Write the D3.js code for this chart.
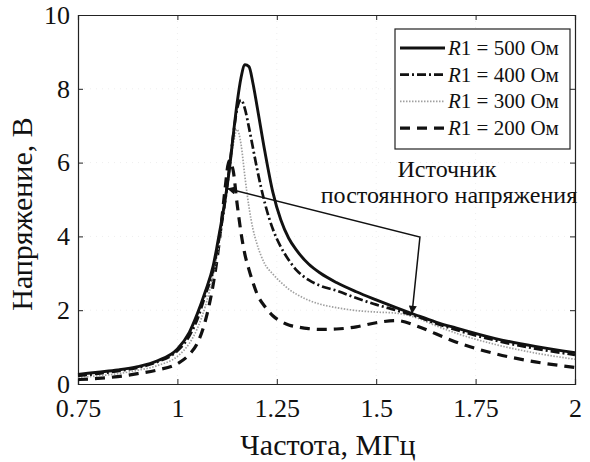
<!DOCTYPE html>
<html>
<head>
<meta charset="utf-8">
<script src="https://cdn.jsdelivr.net/npm/d3@7"></script>
<style>
  body { margin: 0; background: #fff; }
  text { font-family: "Liberation Serif", "Times New Roman", serif; fill: #111; }
</style>
</head>
<body>
<script>
//Data
    const freq = [0.75, 0.8, 0.85, 0.9, 0.95, 1.0, 1.03, 1.05, 1.07, 1.09, 1.1, 1.11, 1.12, 1.13, 1.14,
                  1.15, 1.16, 1.17, 1.18, 1.19, 1.2, 1.22, 1.24, 1.26, 1.28, 1.3, 1.33, 1.36, 1.4,
                  1.45, 1.5, 1.55, 1.6, 1.65, 1.7, 1.8, 1.9, 2.0];

    const r500 = [0.26, 0.32, 0.38, 0.47, 0.63, 0.95, 1.4, 1.9, 2.5, 3.2, 3.75, 4.35, 5.0, 5.75, 6.7,
                  7.6, 8.3, 8.65, 8.6, 8.15, 7.55, 6.3, 5.2, 4.45, 3.95, 3.62, 3.25, 3.0, 2.75,
                  2.5, 2.28, 2.07, 1.87, 1.68, 1.52, 1.23, 1.02, 0.85];

    const r400 = [0.22, 0.28, 0.35, 0.44, 0.6, 0.9, 1.3, 1.75, 2.4, 3.1, 3.65, 4.25, 4.95, 5.8, 6.7,
                  7.45, 7.7, 7.45, 6.95, 6.4, 5.85, 4.9, 4.2, 3.72, 3.36, 3.08, 2.82, 2.66, 2.53,
                  2.33, 2.15, 2.0, 1.84, 1.64, 1.47, 1.18, 0.96, 0.79];

    const r300 = [0.18, 0.22, 0.28, 0.37, 0.5, 0.75, 1.1, 1.5, 2.1, 2.95, 3.5, 4.15, 4.85, 5.7, 6.45,
                  6.9, 6.5, 5.6, 4.8, 4.2, 3.8, 3.25, 2.98, 2.76, 2.57, 2.43, 2.27, 2.16, 2.07,
                  1.99, 1.95, 1.92, 1.8, 1.58, 1.38, 1.07, 0.84, 0.67];

    const r200 = [0.12, 0.15, 0.2, 0.28, 0.38, 0.55, 0.8, 1.1, 1.7, 2.7, 3.4, 4.3, 5.3, 6.05, 5.8,
                  4.9, 4.1, 3.5, 3.1, 2.75, 2.45, 2.1, 1.85, 1.7, 1.6, 1.55, 1.5, 1.48, 1.49,
                  1.55, 1.66, 1.72, 1.58, 1.36, 1.14, 0.82, 0.6, 0.45];

    const xTicks = [0.75, 1, 1.25, 1.5, 1.75, 2];
    const yTicks = [0, 2, 4, 6, 8, 10];

    const seriesNames = ["500", "400", "300", "200"];

    // annotation arrow: start (on curve), bend, tip (data units)
    const arrowPts = [[1.125, 5.3], [1.61, 3.98], [1.59, 1.9]];

//Layout
    const width = 590;
    const height = 462;
    const mLeft = 78, mRight = 575, mTop = 15, mBottom = 384;

    const svg = d3.select("body")
                .append("svg")
                .attr("width", width)
                .attr("height", height);

//Scales
    const xScale = d3.scaleLinear()
                    .domain([0.75, 2])
                    .range([mLeft, mRight]);

    const yScale = d3.scaleLinear()
                    .domain([0, 10])
                    .range([mBottom, mTop]);

//Faint grid
    svg.append("g")
        .selectAll("line")
        .data(xTicks.slice(1, -1))
        .join("line")
        .attr("x1", d => xScale(d)).attr("x2", d => xScale(d))
        .attr("y1", mTop).attr("y2", mBottom)
        .attr("stroke", "#eee")
        .attr("stroke-dasharray", "1,5");

    svg.append("g")
        .selectAll("line")
        .data(yTicks.slice(1, -1))
        .join("line")
        .attr("x1", mLeft).attr("x2", mRight)
        .attr("y1", d => yScale(d)).attr("y2", d => yScale(d))
        .attr("stroke", "#eee")
        .attr("stroke-dasharray", "1,5");

//Axes - inside ticks on all four sides
    const bottomAxis = d3.axisBottom(xScale).tickValues(xTicks).tickSize(-5).tickPadding(15).tickFormat(d => String(d));
    const topAxis = d3.axisTop(xScale).tickValues(xTicks).tickSize(-5).tickFormat("");
    const leftAxis = d3.axisLeft(yScale).tickValues(yTicks).tickSize(-5).tickPadding(8);
    const rightAxis = d3.axisRight(yScale).tickValues(yTicks).tickSize(-5).tickFormat("");

    const styleAxis = g => {
        g.select(".domain").attr("stroke", "#222").attr("stroke-width", 1.2);
        g.selectAll(".tick line").attr("stroke", "#222");
        g.selectAll(".tick text")
            .attr("font-size", 26)
            .attr("fill", "#111");
    };

    svg.append("g").attr("transform", "translate(0," + mBottom + ")").call(bottomAxis).call(styleAxis);
    svg.append("g").attr("transform", "translate(0," + mTop + ")").call(topAxis).call(styleAxis);
    svg.append("g").attr("transform", "translate(" + mLeft + ",0)").call(leftAxis).call(styleAxis);
    svg.append("g").attr("transform", "translate(" + mRight + ",0)").call(rightAxis).call(styleAxis);

//Lines
    const lineStyles = [
        { values: r500, stroke: "#111", width: 2.9, dash: null },
        { values: r400, stroke: "#111", width: 2.7, dash: "9,3,2,3" },
        { values: r300, stroke: "#a0a0a0", width: 1.7, dash: "1.5,1.5" },
        { values: r200, stroke: "#111", width: 3.2, dash: "10,7" }
    ];

    const line = d3.line()
                .x(d => xScale(d[0]))
                .y(d => yScale(d[1]))
                .curve(d3.curveMonotoneX);

    const plot = svg.append("g");

    lineStyles.slice().reverse().forEach(s => {
        plot.append("path")
            .datum(freq.map((f, i) => [f, s.values[i]]))
            .attr("d", line)
            .attr("fill", "none")
            .attr("stroke", s.stroke)
            .attr("stroke-width", s.width)
            .attr("stroke-dasharray", s.dash);
    });

//Legend
    const legend = svg.append("g");
    legend.append("rect")
        .attr("x", 395).attr("y", 29)
        .attr("width", 175).attr("height", 120)
        .attr("fill", "#fff")
        .attr("stroke", "#222")
        .attr("stroke-width", 1.2);

    seriesNames.forEach((name, i) => {
        const y = 48 + i * 26.7;
        const s = lineStyles[i];
        legend.append("line")
            .attr("x1", 400).attr("x2", 445)
            .attr("y1", y).attr("y2", y)
            .attr("stroke", s.stroke)
            .attr("stroke-width", s.width)
            .attr("stroke-dasharray", s.dash);
        const t = legend.append("text")
            .attr("x", 448).attr("y", y + 7)
            .attr("font-size", 21);
        t.append("tspan").attr("font-style", "italic").text("R");
        t.append("tspan").text("1 = " + name + " Ом");
    });

//Annotation
    svg.append("text")
        .attr("x", 447).attr("y", 177)
        .attr("text-anchor", "middle")
        .attr("font-size", 24)
        .text("Источник");

    svg.append("text")
        .attr("x", 449).attr("y", 203)
        .attr("text-anchor", "middle")
        .attr("font-size", 24)
        .text("постоянного напряжения");

    svg.append("defs").append("marker")
        .attr("id", "arr")
        .attr("viewBox", "0 0 10 10")
        .attr("refX", 10).attr("refY", 5)
        .attr("markerWidth", 10).attr("markerHeight", 8)
        .attr("markerUnits", "userSpaceOnUse")
        .attr("orient", "auto-start-reverse")
        .append("path")
        .attr("d", "M0,0 L10,5 L0,10 z")
        .attr("fill", "#111");

    svg.append("path")
        .datum(arrowPts)
        .attr("d", d3.line().x(d => xScale(d[0])).y(d => yScale(d[1])))
        .attr("fill", "none")
        .attr("stroke", "#111")
        .attr("stroke-width", 1.5)
        .attr("marker-start", "url(#arr)")
        .attr("marker-end", "url(#arr)");

//Axis titles
    svg.append("text")
        .attr("x", 328)
        .attr("y", 455)
        .attr("text-anchor", "middle")
        .attr("font-size", 30)
        .text("Частота, МГц");

    svg.append("text")
        .attr("transform", "translate(32,214) rotate(-90)")
        .attr("text-anchor", "middle")
        .attr("font-size", 30)
        .text("Напряжение, В");
</script>
</body>
</html>
